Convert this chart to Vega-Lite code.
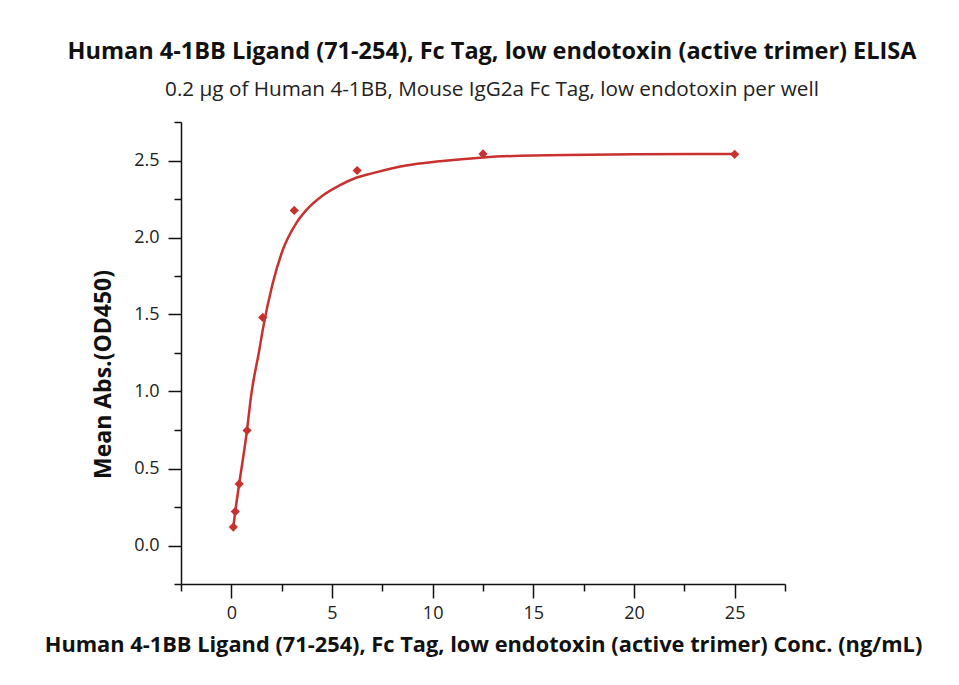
{
  "$schema": "https://vega.github.io/schema/vega-lite/v6.json",
  "autosize": "none",
  "padding": {"left": 181, "top": 122, "right": 174, "bottom": 101},
  "width": 604,
  "height": 462,
  "background": "white",
  "config": {
    "view": {"stroke": null},
    "font": "Open Sans",
    "axis": {
      "grid": false,
      "domainColor": "#111",
      "domainWidth": 1.5,
      "tickColor": "#111",
      "tickWidth": 1.5,
      "labelFont": "Open Sans",
      "labelFontSize": 18,
      "labelColor": "#222",
      "titleFont": "Open Sans",
      "titleFontWeight": "bold",
      "titleColor": "#111"
    }
  },
  "title": {
    "text": "Human 4-1BB Ligand (71-254), Fc Tag, low endotoxin (active trimer) ELISA",
    "subtitle": "0.2 μg of Human 4-1BB, Mouse IgG2a Fc Tag, low endotoxin per well",
    "font": "Open Sans",
    "fontSize": 23.5,
    "fontWeight": "bold",
    "color": "#111",
    "subtitleFont": "Open Sans",
    "subtitleFontSize": 20.7,
    "subtitleColor": "#222",
    "subtitlePadding": 16,
    "anchor": "middle",
    "dx": 9,
    "offset": 22
  },
  "datasets": {
    "points": [
      {"conc": 0.098, "od": 0.12},
      {"conc": 0.195, "od": 0.22},
      {"conc": 0.39, "od": 0.40},
      {"conc": 0.78, "od": 0.747},
      {"conc": 1.56, "od": 1.481},
      {"conc": 3.125, "od": 2.176},
      {"conc": 6.25, "od": 2.435},
      {"conc": 12.5, "od": 2.543},
      {"conc": 25, "od": 2.54}
    ],
    "curve": [
      {"conc": 0.098, "od": 0.12},
      {"conc": 0.195, "od": 0.22},
      {"conc": 0.39, "od": 0.40},
      {"conc": 0.78, "od": 0.75},
      {"conc": 0.98, "od": 0.97},
      {"conc": 1.39, "od": 1.27},
      {"conc": 1.56, "od": 1.40},
      {"conc": 2.05, "od": 1.70},
      {"conc": 2.55, "od": 1.917},
      {"conc": 3.21, "od": 2.09},
      {"conc": 3.71, "od": 2.176},
      {"conc": 4.54, "od": 2.273},
      {"conc": 5.37, "od": 2.338},
      {"conc": 6.2, "od": 2.388},
      {"conc": 7.02, "od": 2.418},
      {"conc": 8.68, "od": 2.468},
      {"conc": 10.34, "od": 2.495},
      {"conc": 12.5, "od": 2.52},
      {"conc": 15, "od": 2.533},
      {"conc": 20, "od": 2.54},
      {"conc": 25, "od": 2.543}
    ]
  },
  "encoding": {
    "x": {
      "field": "conc",
      "type": "quantitative",
      "scale": {"domain": [-2.5, 27.5], "nice": false, "zero": false},
      "axis": {
        "title": "Human 4-1BB Ligand (71-254), Fc Tag, low endotoxin (active trimer) Conc. (ng/mL)",
        "titleFontSize": 21.8,
        "titlePadding": 12,
        "values": [-2.5, 0, 2.5, 5, 7.5, 10, 12.5, 15, 17.5, 20, 22.5, 25, 27.5],
        "labelExpr": "(datum.value % 5 === 0) ? format(datum.value, 'd') : ''",
        "tickSize": {"condition": {"test": "datum.value % 5 === 0", "value": 14}, "value": 7},
        "labelPadding": 6
      }
    },
    "y": {
      "field": "od",
      "type": "quantitative",
      "scale": {"domain": [-0.25, 2.75], "nice": false, "zero": false},
      "axis": {
        "title": "Mean Abs.(OD450)",
        "titleFontSize": 23,
        "titlePadding": 18,
        "titleY": 252,
        "values": [-0.25, 0, 0.25, 0.5, 0.75, 1, 1.25, 1.5, 1.75, 2, 2.25, 2.5, 2.75],
        "labelExpr": "(datum.value % 0.5 === 0 && datum.value >= 0 && datum.value <= 2.5) ? format(datum.value, '.1f') : ''",
        "tickSize": {"condition": {"test": "datum.value % 0.5 === 0", "value": 13}, "value": 7},
        "labelPadding": 9
      }
    }
  },
  "layer": [
    {
      "data": {"name": "curve"},
      "mark": {"type": "line", "color": "#c8312f", "strokeWidth": 2.5, "interpolate": "monotone"}
    },
    {
      "data": {"name": "points"},
      "mark": {"type": "point", "shape": "diamond", "filled": true, "color": "#c8312f", "opacity": 1, "size": 85}
    }
  ]
}
